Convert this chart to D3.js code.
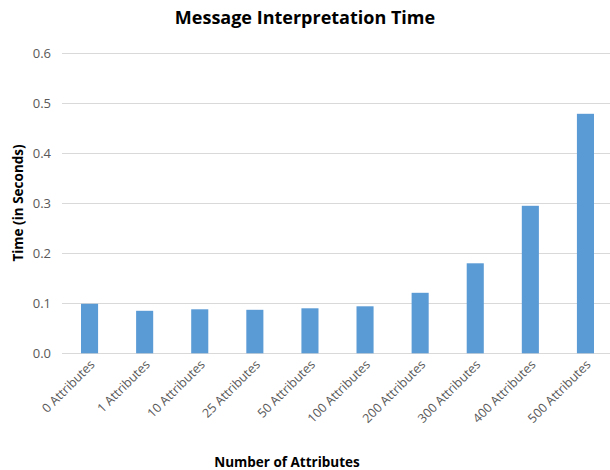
<!DOCTYPE html>
<html>
<head>
<meta charset="utf-8">
<script src="https://cdn.jsdelivr.net/npm/d3@7/dist/d3.min.js"></script>
<style>
  html, body { margin: 0; padding: 0; background: #fff; }
  svg { display: block; }
  text { font-family: "Open Sans", "Noto Sans", sans-serif; }
</style>
</head>
<body>
<svg id="chart" width="610" height="470"></svg>
<script>
// Interpretation time per message size
const categories = ["0 Attributes", "1 Attributes", "10 Attributes", "25 Attributes", "50 Attributes",
  "100 Attributes", "200 Attributes", "300 Attributes", "400 Attributes", "500 Attributes"];
const times = [0.099, 0.085, 0.088, 0.087, 0.090, 0.094, 0.121, 0.180, 0.295, 0.479];
const yTicks = [0, 0.1, 0.2, 0.3, 0.4, 0.5, 0.6];

const svg = d3.select("#chart");
const margin = { left: 62, right: -3, top: 53.3, bottom: 116.7 };
const W = 610, H = 470;

const x = d3.scaleBand()
  .domain(categories)
  .range([margin.left, W - margin.right])
  .paddingInner(0.69)
  .paddingOuter(0.345);

const y = d3.scaleLinear()
  .domain([0, 0.6])
  .range([H - margin.bottom, margin.top]);

// Horizontal gridlines
svg.append("g")
  .selectAll("line")
  .data(yTicks)
  .join("line")
  .attr("x1", margin.left)
  .attr("x2", W)
  .attr("y1", d => Math.round(y(d)) + 0.5)
  .attr("y2", d => Math.round(y(d)) + 0.5)
  .attr("stroke", "#d9d9d9")
  .attr("stroke-width", 1);

// Y tick labels
const yAxis = svg.append("g")
  .attr("transform", `translate(${margin.left - 11},0)`)
  .call(d3.axisLeft(y).tickValues(yTicks).tickFormat(d3.format(".1f")).tickSize(0).tickPadding(0));
yAxis.select(".domain").remove();
yAxis.selectAll("text")
  .attr("fill", "#595959")
  .style("font-size", "13px")
  .style("font-family", "'Open Sans', sans-serif");

// Bars
svg.append("g")
  .selectAll("rect")
  .data(categories.map((c, i) => ({ c, v: times[i] })))
  .join("rect")
  .attr("x", d => x(d.c))
  .attr("width", x.bandwidth())
  .attr("y", d => y(d.v))
  .attr("height", d => y(0) - y(d.v))
  .attr("fill", "#5b9bd5");

// Category labels, rotated
const xAxis = svg.append("g")
  .attr("transform", `translate(0,${y(0)})`)
  .call(d3.axisBottom(x).tickSize(0).tickPadding(0));
xAxis.select(".domain").remove();
xAxis.selectAll("text")
  .attr("fill", "#595959")
  .style("font-size", "12.5px")
  .style("font-family", "'Open Sans', sans-serif")
  .attr("text-anchor", "end")
  .attr("dy", null)
  .attr("y", 0)
  .attr("transform", "translate(6,12) rotate(-45)");

// Title
svg.append("text")
  .attr("x", 305)
  .attr("y", 24)
  .attr("text-anchor", "middle")
  .attr("font-weight", "bold")
  .attr("fill", "#000")
  .style("font-size", "18px")
  .text("Message Interpretation Time");

// Axis titles
svg.append("text")
  .attr("transform", "translate(23,203) rotate(-90)")
  .attr("text-anchor", "middle")
  .attr("font-weight", "bold")
  .attr("fill", "#000")
  .style("font-size", "13.5px")
  .text("Time (in Seconds)");

svg.append("text")
  .attr("x", 287)
  .attr("y", 467)
  .attr("text-anchor", "middle")
  .attr("font-weight", "bold")
  .attr("fill", "#000")
  .style("font-size", "13.5px")
  .text("Number of Attributes");
</script>
</body>
</html>
